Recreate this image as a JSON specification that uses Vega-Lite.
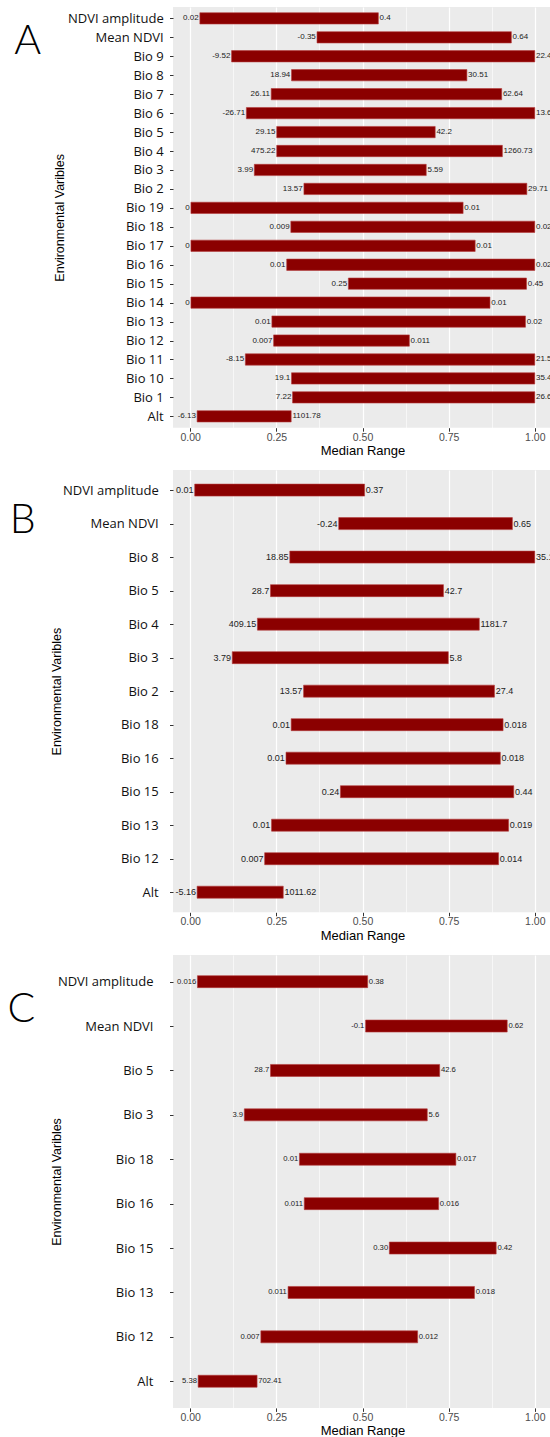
{
  "$schema": "https://vega.github.io/schema/vega-lite/v6.json",
  "background": "white",
  "padding": {"left": 7, "top": 7, "right": 0, "bottom": 0},
  "spacing": 12,
  "config": {
    "view": {"fill": "#EBEBEB", "stroke": null},
    "axis": {"domain": false, "gridColor": "white", "tickColor": "#333333", "tickSize": 3.5, "tickWidth": 1, "labelFont": "Liberation Sans", "titleFont": "Liberation Sans", "titleFontWeight": "normal", "titleColor": "black"},
    "axisX": {"labelFontSize": 10.5, "labelColor": "#4d4d4d", "labelPadding": 1, "titleFontSize": 13, "titlePadding": 2},
    "axisY": {"labelFont": "Open Sans", "labelFontSize": 13, "labelColor": "#111111", "gridWidth": 1.2, "titleFontSize": 12.5},
    "title": {"font": "Lato", "fontWeight": 300, "fontSize": 41, "color": "black", "orient": "top", "anchor": "start", "frame": "group", "align": "left", "baseline": "alphabetic", "offset": 0},
    "text": {"font": "Liberation Sans", "color": "#222222", "baseline": "middle"}
  },
  "datasets": {
    "A": [
      {"var": "NDVI amplitude", "start": 0.028, "end": 0.546, "lo": "0.02", "hi": "0.4"},
      {"var": "Mean NDVI", "start": 0.368, "end": 0.932, "lo": "-0.35", "hi": "0.64"},
      {"var": "Bio 9", "start": 0.120, "end": 1.0, "lo": "-9.52", "hi": "22.4"},
      {"var": "Bio 8", "start": 0.294, "end": 0.803, "lo": "18.94", "hi": "30.51"},
      {"var": "Bio 7", "start": 0.235, "end": 0.904, "lo": "26.11", "hi": "62.64"},
      {"var": "Bio 6", "start": 0.163, "end": 1.0, "lo": "-26.71", "hi": "13.6"},
      {"var": "Bio 5", "start": 0.251, "end": 0.711, "lo": "29.15", "hi": "42.2"},
      {"var": "Bio 4", "start": 0.251, "end": 0.906, "lo": "475.22", "hi": "1260.73"},
      {"var": "Bio 3", "start": 0.186, "end": 0.685, "lo": "3.99", "hi": "5.59"},
      {"var": "Bio 2", "start": 0.330, "end": 0.977, "lo": "13.57", "hi": "29.71"},
      {"var": "Bio 19", "start": 0.002, "end": 0.792, "lo": "0", "hi": "0.01"},
      {"var": "Bio 18", "start": 0.292, "end": 1.0, "lo": "0.009", "hi": "0.02"},
      {"var": "Bio 17", "start": 0.002, "end": 0.827, "lo": "0", "hi": "0.01"},
      {"var": "Bio 16", "start": 0.280, "end": 1.0, "lo": "0.01", "hi": "0.02"},
      {"var": "Bio 15", "start": 0.459, "end": 0.976, "lo": "0.25", "hi": "0.45"},
      {"var": "Bio 14", "start": 0.002, "end": 0.870, "lo": "0", "hi": "0.01"},
      {"var": "Bio 13", "start": 0.237, "end": 0.973, "lo": "0.01", "hi": "0.02"},
      {"var": "Bio 12", "start": 0.242, "end": 0.636, "lo": "0.007", "hi": "0.011"},
      {"var": "Bio 11", "start": 0.160, "end": 1.0, "lo": "-8.15", "hi": "21.5"},
      {"var": "Bio 10", "start": 0.294, "end": 1.0, "lo": "19.1", "hi": "35.4"},
      {"var": "Bio 1", "start": 0.297, "end": 1.0, "lo": "7.22", "hi": "26.6"},
      {"var": "Alt", "start": 0.020, "end": 0.293, "lo": "-6.13", "hi": "1101.78"}
    ],
    "B": [
      {"var": "NDVI amplitude", "start": 0.013, "end": 0.506, "lo": "0.01", "hi": "0.37"},
      {"var": "Mean NDVI", "start": 0.431, "end": 0.935, "lo": "-0.24", "hi": "0.65"},
      {"var": "Bio 8", "start": 0.289, "end": 1.0, "lo": "18.85", "hi": "35.1"},
      {"var": "Bio 5", "start": 0.233, "end": 0.735, "lo": "28.7", "hi": "42.7"},
      {"var": "Bio 4", "start": 0.195, "end": 0.839, "lo": "409.15", "hi": "1181.7"},
      {"var": "Bio 3", "start": 0.122, "end": 0.749, "lo": "3.79", "hi": "5.8"},
      {"var": "Bio 2", "start": 0.329, "end": 0.883, "lo": "13.57", "hi": "27.4"},
      {"var": "Bio 18", "start": 0.293, "end": 0.908, "lo": "0.01", "hi": "0.018"},
      {"var": "Bio 16", "start": 0.278, "end": 0.900, "lo": "0.01", "hi": "0.018"},
      {"var": "Bio 15", "start": 0.436, "end": 0.939, "lo": "0.24", "hi": "0.44"},
      {"var": "Bio 13", "start": 0.236, "end": 0.924, "lo": "0.01", "hi": "0.019"},
      {"var": "Bio 12", "start": 0.216, "end": 0.895, "lo": "0.007", "hi": "0.014"},
      {"var": "Alt", "start": 0.020, "end": 0.270, "lo": "-5.16", "hi": "1011.62"}
    ],
    "C": [
      {"var": "NDVI amplitude", "start": 0.021, "end": 0.515, "lo": "0.016", "hi": "0.38"},
      {"var": "Mean NDVI", "start": 0.509, "end": 0.920, "lo": "-0.1", "hi": "0.62"},
      {"var": "Bio 5", "start": 0.233, "end": 0.724, "lo": "28.7", "hi": "42.6"},
      {"var": "Bio 3", "start": 0.157, "end": 0.688, "lo": "3.9", "hi": "5.6"},
      {"var": "Bio 18", "start": 0.317, "end": 0.771, "lo": "0.01", "hi": "0.017"},
      {"var": "Bio 16", "start": 0.331, "end": 0.721, "lo": "0.011", "hi": "0.016"},
      {"var": "Bio 15", "start": 0.578, "end": 0.888, "lo": "0.30", "hi": "0.42"},
      {"var": "Bio 13", "start": 0.284, "end": 0.825, "lo": "0.011", "hi": "0.018"},
      {"var": "Bio 12", "start": 0.205, "end": 0.660, "lo": "0.007", "hi": "0.012"},
      {"var": "Alt", "start": 0.023, "end": 0.194, "lo": "5.38", "hi": "702.41"}
    ]
  },
  "vconcat": [
    {
      "width": 379, "height": 420.7,
      "title": {"text": "A", "dx": -158.7, "dy": 59.7},
      "data": {"name": "A"},
      "encoding": {"y": {"field": "var", "type": "nominal", "sort": null, "scale": {"type": "point", "padding": 0.6}, "axis": {"title": "Environmental Varibles", "titlePadding": 1.5, "labelPadding": 6.3, "labelExpr": "test(/^Bio \\d\\d$/, datum.label) ? datum.label : datum.label + '\u00a0'"}}},
      "layer": [
        {"mark": {"type": "bar", "height": 11.3, "fill": "#8b0000", "stroke": "#b33a3a", "strokeWidth": 0.6},
         "encoding": {"x": {"field": "start", "type": "quantitative", "scale": {"domain": [-0.05, 1.05], "nice": false, "zero": false},
           "axis": {"title": "Median Range", "values": [0, 0.125, 0.25, 0.375, 0.5, 0.625, 0.75, 0.875, 1], "labelOverlap": false, "labelExpr": "(datum.value*4)%1 != 0 ? '' : format(datum.value, '.2f')", "gridWidth": {"condition": {"test": "(datum.value*4)%1 != 0", "value": 0.6}, "value": 1.2}, "tickOpacity": {"condition": {"test": "(datum.value*4)%1 != 0", "value": 0}, "value": 1}}},
           "x2": {"field": "end"}}},
        {"mark": {"type": "text", "align": "right", "dx": -1.2, "fontSize": 8},
         "encoding": {"x": {"field": "start", "type": "quantitative", "scale": {"domain": [-0.05, 1.05], "nice": false, "zero": false}}, "text": {"field": "lo"}}},
        {"mark": {"type": "text", "align": "left", "dx": 1.2, "fontSize": 8},
         "encoding": {"x": {"field": "end", "type": "quantitative", "scale": {"domain": [-0.05, 1.05], "nice": false, "zero": false}}, "text": {"field": "hi"}}}
      ]
    },
    {
      "width": 379, "height": 442.3,
      "title": {"text": "B", "dx": -163.3, "dy": 75.7},
      "data": {"name": "B"},
      "encoding": {"y": {"field": "var", "type": "nominal", "sort": null, "scale": {"type": "point", "padding": 0.6}, "axis": {"title": "Environmental Varibles", "titlePadding": -1, "labelPadding": 11.3, "labelExpr": "test(/^Bio \\d\\d$/, datum.label) ? datum.label : datum.label + '\u00a0'"}}},
      "layer": [
        {"mark": {"type": "bar", "height": 12, "fill": "#8b0000", "stroke": "#b33a3a", "strokeWidth": 0.6},
         "encoding": {"x": {"field": "start", "type": "quantitative", "scale": {"domain": [-0.05, 1.05], "nice": false, "zero": false},
           "axis": {"title": "Median Range", "values": [0, 0.125, 0.25, 0.375, 0.5, 0.625, 0.75, 0.875, 1], "labelOverlap": false, "labelExpr": "(datum.value*4)%1 != 0 ? '' : format(datum.value, '.2f')", "gridWidth": {"condition": {"test": "(datum.value*4)%1 != 0", "value": 0.6}, "value": 1.2}, "tickOpacity": {"condition": {"test": "(datum.value*4)%1 != 0", "value": 0}, "value": 1}}},
           "x2": {"field": "end"}}},
        {"mark": {"type": "text", "align": "right", "dx": -1.2, "fontSize": 9},
         "encoding": {"x": {"field": "start", "type": "quantitative", "scale": {"domain": [-0.05, 1.05], "nice": false, "zero": false}}, "text": {"field": "lo"}}},
        {"mark": {"type": "text", "align": "left", "dx": 1.2, "fontSize": 9},
         "encoding": {"x": {"field": "end", "type": "quantitative", "scale": {"domain": [-0.05, 1.05], "nice": false, "zero": false}}, "text": {"field": "hi"}}}
      ]
    },
    {
      "width": 379, "height": 452.9,
      "title": {"text": "C", "dx": -165.4, "dy": 80.2},
      "data": {"name": "C"},
      "encoding": {"y": {"field": "var", "type": "nominal", "sort": null, "scale": {"type": "point", "padding": 0.6}, "axis": {"title": "Environmental Varibles", "titlePadding": -6, "labelPadding": 16.5, "labelExpr": "test(/^Bio \\d\\d$/, datum.label) ? datum.label : datum.label + '\u00a0'"}}},
      "layer": [
        {"mark": {"type": "bar", "height": 12, "fill": "#8b0000", "stroke": "#b33a3a", "strokeWidth": 0.6},
         "encoding": {"x": {"field": "start", "type": "quantitative", "scale": {"domain": [-0.05, 1.05], "nice": false, "zero": false},
           "axis": {"title": "Median Range", "values": [0, 0.125, 0.25, 0.375, 0.5, 0.625, 0.75, 0.875, 1], "labelOverlap": false, "labelExpr": "(datum.value*4)%1 != 0 ? '' : format(datum.value, '.2f')", "gridWidth": {"condition": {"test": "(datum.value*4)%1 != 0", "value": 0.6}, "value": 1.2}, "tickOpacity": {"condition": {"test": "(datum.value*4)%1 != 0", "value": 0}, "value": 1}}},
           "x2": {"field": "end"}}},
        {"mark": {"type": "text", "align": "right", "dx": -1.2, "fontSize": 7.7},
         "encoding": {"x": {"field": "start", "type": "quantitative", "scale": {"domain": [-0.05, 1.05], "nice": false, "zero": false}}, "text": {"field": "lo"}}},
        {"mark": {"type": "text", "align": "left", "dx": 1.2, "fontSize": 7.7},
         "encoding": {"x": {"field": "end", "type": "quantitative", "scale": {"domain": [-0.05, 1.05], "nice": false, "zero": false}}, "text": {"field": "hi"}}}
      ]
    }
  ]
}
